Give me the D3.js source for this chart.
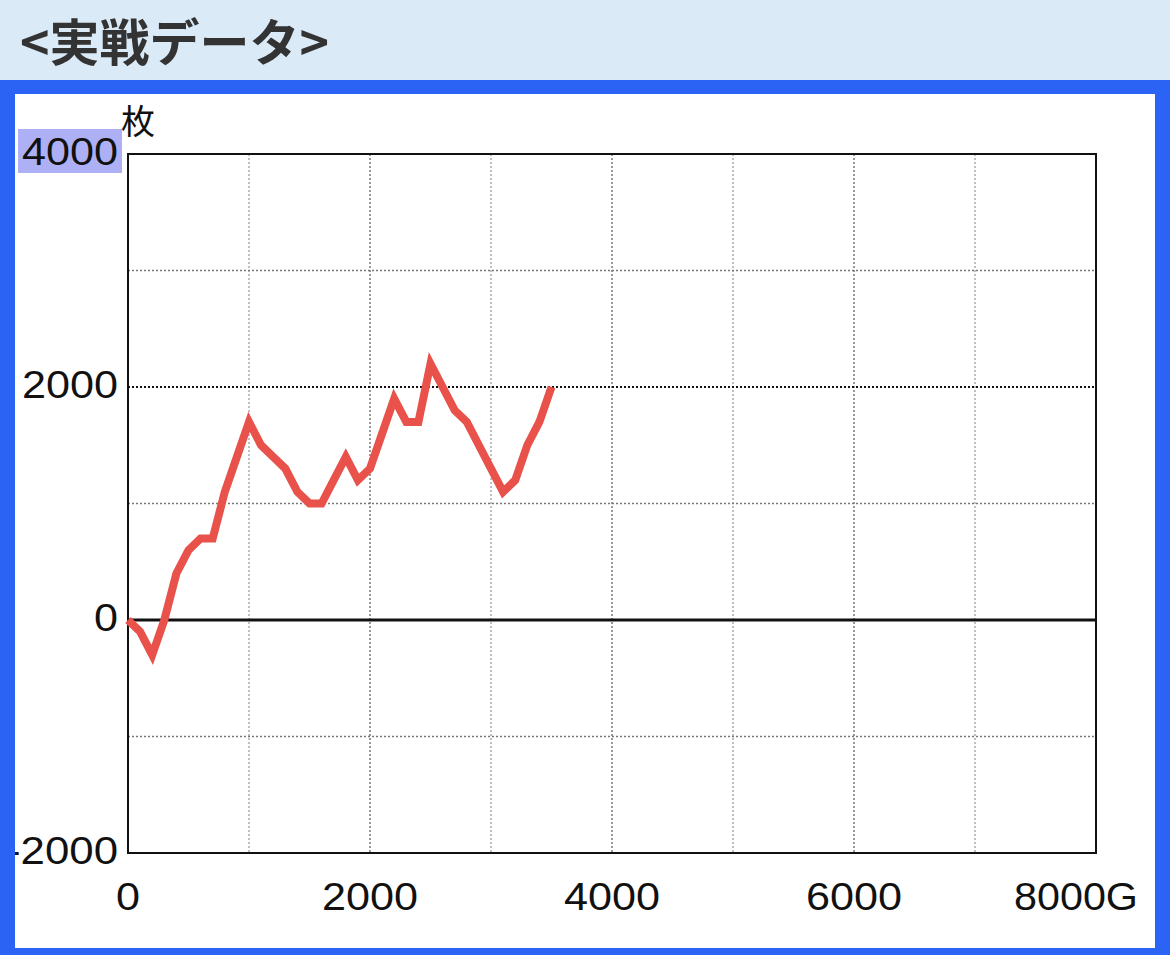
<!DOCTYPE html>
<html><head><meta charset="utf-8">
<script src="https://cdn.jsdelivr.net/npm/d3@7"></script>
<style>
html,body{margin:0;padding:0;background:#fff;}
svg{display:block;}
</style></head>
<body>
<script>
// Data: game count (G) vs medal difference (枚)
const games = [0,100,200,300,400,500,600,700,800,900,1000,1100,1200,1300,1400,1500,1600,1700,1800,1900,2000,2100,2200,2300,2400,2500,2600,2700,2800,2900,3000,3100,3200,3300,3400,3500];
const medals = [0,-100,-300,0,400,600,700,700,1100,1400,1700,1500,1400,1300,1100,1000,1000,1200,1400,1200,1300,1600,1900,1700,1700,2200,2000,1800,1700,1500,1300,1100,1200,1500,1700,2000];
const xTicks = [0,2000,4000,6000,8000];
const xTickLabels = ["0","2000","4000","6000","8000G"];
const yTicks = [-2000,0,2000,4000];
const xGrid = [1000,2000,3000,4000,5000,6000,7000];
const yGrid = [-1000,1000,2000,3000];
const title = "<実戦データ>";
const yUnit = "枚";

const W = 1170, H = 955;
const svg = d3.select("body").append("svg").attr("width", W).attr("height", H);

// header band
svg.append("rect").attr("x",0).attr("y",0).attr("width",W).attr("height",80).attr("fill","#dbeaf7");
svg.append("rect").attr("x",0).attr("y",80).attr("width",W).attr("height",H-80).attr("fill","#2b63f4");
svg.append("rect").attr("x",15).attr("y",94).attr("width",1140).attr("height",854).attr("fill","#ffffff");

svg.append("defs").append("clipPath").attr("id","panel")
  .append("rect").attr("x",15).attr("y",94).attr("width",1140).attr("height",854);

svg.append("text").attr("x",20).attr("y",61)
  .attr("font-family","'Noto Sans CJK JP', sans-serif").attr("font-weight","bold")
  .attr("font-size",50).attr("fill","#333333").text(title);

const x = d3.scaleLinear().domain([0,8000]).range([128,1096]);
const y = d3.scaleLinear().domain([-2000,4000]).range([853,154]);

const g = svg.append("g").attr("clip-path","url(#panel)");
const font = "'Liberation Sans', Arial, Helvetica, sans-serif";

// vertical grid
g.selectAll(".vg").data(xGrid).join("line")
  .attr("x1", d=>x(d)).attr("x2", d=>x(d)).attr("y1", y(4000)).attr("y2", y(-2000))
  .attr("stroke", d=> d%2000===0 ? "#777" : "#aaa").attr("stroke-width",1.5)
  .attr("stroke-dasharray","2,2");
// horizontal grid
g.selectAll(".hg").data(yGrid).join("line")
  .attr("x1", x(0)).attr("x2", x(8000)).attr("y1", d=>y(d)).attr("y2", d=>y(d))
  .attr("stroke", d=> d===2000 ? "#111" : "#777").attr("stroke-width", d=> d===2000 ? 2 : 1.5)
  .attr("stroke-dasharray","2,2");
// zero line
g.append("line").attr("x1",x(0)).attr("x2",x(8000)).attr("y1",y(0)).attr("y2",y(0))
  .attr("stroke","#111").attr("stroke-width",3);
// frame
g.append("rect").attr("x",x(0)).attr("y",y(4000)).attr("width",x(8000)-x(0)).attr("height",y(-2000)-y(4000))
  .attr("fill","none").attr("stroke","#111").attr("stroke-width",2);

// line
const line = d3.line().x((d,i)=>x(games[i])).y(d=>y(d));
g.append("path").datum(medals).attr("d", line).attr("fill","none")
  .attr("stroke","#e8524a").attr("stroke-width",8).attr("stroke-linejoin","miter").attr("stroke-linecap","butt");

// top label highlight
g.append("rect").attr("x",18).attr("y",y(4000)-25).attr("width",104).attr("height",44).attr("fill","#aeb0f5");

// y labels
g.selectAll(".yl").data(yTicks).join("text")
  .attr("x",118).attr("y", d=>y(d)+11).attr("text-anchor","end")
  .attr("font-family",font).attr("font-size",39).attr("fill","#111")
  .attr("textLength", d=> d<0 ? 112 : 24*String(d).length).attr("lengthAdjust","spacingAndGlyphs")
  .text(d=> d<0 ? "-" + Math.abs(d) : d);

// unit label
g.append("text").attr("x",121).attr("y",134).attr("font-family","'Noto Sans CJK JP', sans-serif")
  .attr("font-size",34).attr("fill","#111").text(yUnit);

// x labels
g.selectAll(".xl").data(xTicks).join("text")
  .attr("x", (d,i)=> i===xTicks.length-1 ? x(d)+42 : x(d))
  .attr("y", 910)
  .attr("text-anchor", (d,i)=> i===xTicks.length-1 ? "end" : "middle")
  .attr("font-family",font).attr("font-size",39).attr("fill","#111")
  .attr("textLength", (d,i)=> 24*xTickLabels[i].length + (i===xTicks.length-1 ? 4 : 0)).attr("lengthAdjust","spacingAndGlyphs")
  .text((d,i)=>xTickLabels[i]);
</script>
</body></html>
